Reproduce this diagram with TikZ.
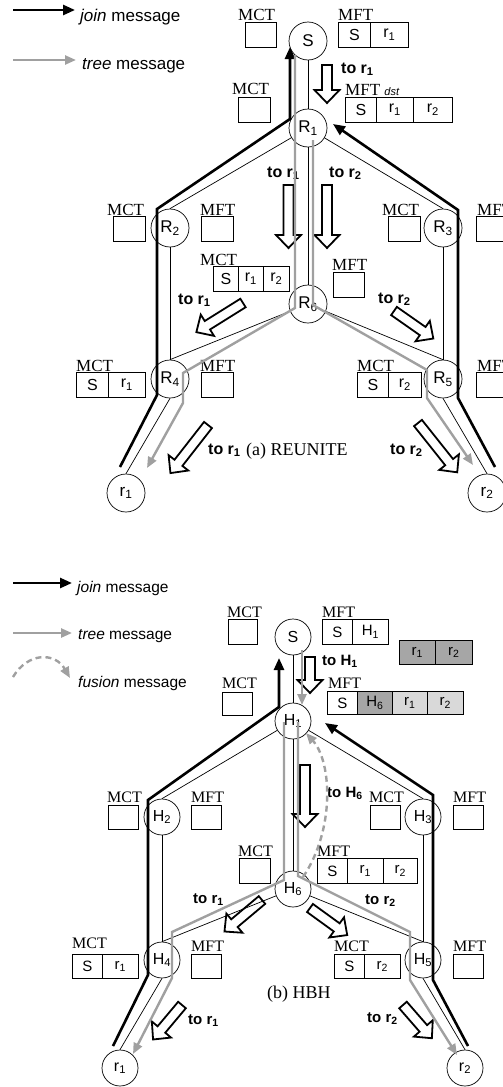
\documentclass[tikz,border=0pt]{standalone}
\usepackage{fontspec}
\setmainfont{Liberation Serif}
\setsansfont{Liberation Sans}
\usetikzlibrary{arrows.meta}
\definecolor{treegray}{RGB}{160,160,160}
\definecolor{darkcell}{RGB}{166,166,166}
\definecolor{lightcell}{RGB}{217,217,217}
\tikzset{
    router/.style = {
        circle,
        draw=black,
        line width=0.7pt,
        minimum size=38pt,
        inner sep=0pt,
        font=\sffamily\fontsize{17}{17}\selectfont
    },
    small_router/.style = {
        router,
        minimum size=36pt,
        font=\sffamily\fontsize{16}{16}\selectfont
    },
    table_cell/.style = {
        draw=black,
        line width=0.7pt,
        minimum height=25pt,
        inner sep=0pt,
        anchor=north west,
        font=\sffamily\fontsize{16}{16}\selectfont
    },
    small_cell/.style = {
        table_cell,
        minimum height=24pt,
        font=\sffamily\fontsize{15}{15}\selectfont
    },
    table_name/.style = {
        anchor=base west,
        inner sep=0pt,
        font=\fontsize{17}{17}\selectfont
    },
    small_name/.style = {
        table_name,
        font=\fontsize{16}{16}\selectfont
    },
    msg_label/.style = {
        anchor=base west,
        inner sep=0pt,
        font=\sffamily\bfseries\fontsize{16}{16}\selectfont
    },
    small_label/.style = {
        msg_label,
        font=\sffamily\bfseries\fontsize{15}{15}\selectfont
    },
    legend_text/.style = {
        anchor=base west,
        inner sep=0pt,
        font=\sffamily\fontsize{17}{17}\selectfont
    },
    link_line/.style = {
        draw=black,
        line width=0.7pt
    },
    join_line/.style = {
        draw=black,
        line width=2.6pt,
        -{Triangle[length=12pt,width=10pt]}
    },
    tree_line/.style = {
        draw=treegray,
        line width=2.4pt,
        -{Triangle[length=11pt,width=9pt]}
    },
    fusion_line/.style = {
        draw=treegray,
        line width=2.4pt,
        dash pattern=on 6pt off 4pt,
        -{Triangle[length=11pt,width=9pt]}
    },
    hop_arrow/.pic = {
        \path[draw=black, line width=1.8pt, fill=white, line join=miter]
            (0,-5) -- (#1-13,-5) -- (#1-13,-12.5) -- (#1,0) -- (#1-13,12.5) -- (#1-13,5) -- (0,5) -- cycle;
    },
}

\begin{document}
\begin{tikzpicture}[x=1pt, y=-1pt]
    \useasboundingbox (0,0) rectangle (503,1087);

    % ---------------- (a) REUNITE ----------------
    % legend
    \coordinate (leg_join_a0) at (13,10);
    \coordinate (leg_join_a1) at (75,10);
    \coordinate (leg_tree_a0) at (13,60);
    \coordinate (leg_tree_a1) at (76,60);
    \path[join_line] (leg_join_a0) -- (leg_join_a1);
    \path[tree_line] (leg_tree_a0) -- (leg_tree_a1);
    \node[legend_text] (leg_join_a_txt) at (80,21) {\textit{join} message};
    \node[legend_text] (leg_tree_a_txt) at (82,69) {\textit{tree} message};

    % tables
    \node[table_name] (mct_src_a_name) at (238,20) {MCT};
    \node[table_cell, minimum width=31pt] (mct_src_a) at (245,22) {};
    \node[table_name] (mft_src_a_name) at (338,20) {MFT};
    \node[table_cell, minimum width=32pt] (mft_src_a1) at (338,22) {S};
    \node[table_cell, minimum width=38pt] (mft_src_a2) at (370,22) {r\textsubscript{1}};

    \node[table_name] (mct_R1_name) at (232,94) {MCT};
    \node[table_cell, minimum width=32pt] (mct_R1) at (238,97) {};
    \node[table_name] (mft_R1_name) at (345,95) {MFT \textsf{\itshape\fontsize{11}{11}\selectfont dst}};
    \node[table_cell, minimum width=31pt] (mft_R1a) at (345,97) {S};
    \node[table_cell, minimum width=37pt] (mft_R1b) at (376,97) {r\textsubscript{1}};
    \node[table_cell, minimum width=39pt] (mft_R1c) at (413,97) {r\textsubscript{2}};

    \node[table_name] (mct_R2_name) at (107,215) {MCT};
    \node[table_cell, minimum width=32pt] (mct_R2) at (113,216) {};
    \node[table_name] (mft_R2_name) at (200,215) {MFT};
    \node[table_cell, minimum width=32pt] (mft_R2) at (201,216) {};

    \node[table_name] (mct_R3_name) at (382,215) {MCT};
    \node[table_cell, minimum width=32pt] (mct_R3) at (388,216) {};
    \node[table_name] (mft_R3_name) at (477,215) {MFT};
    \node[table_cell, minimum width=32pt] (mft_R3) at (476,216) {};

    \node[table_name] (mct_R6_name) at (200,265) {MCT};
    \node[table_cell, minimum width=25pt] (mct_R6a) at (213,266) {S};
    \node[table_cell, minimum width=25pt] (mct_R6b) at (238,266) {r\textsubscript{1}};
    \node[table_cell, minimum width=26pt] (mct_R6c) at (263,266) {r\textsubscript{2}};
    \node[table_name] (mft_R6_name) at (332,270) {MFT};
    \node[table_cell, minimum width=31pt] (mft_R6) at (333,272) {};

    \node[table_name] (mct_R4_name) at (76,371) {MCT};
    \node[table_cell, minimum width=32pt] (mct_R4a) at (76,372) {S};
    \node[table_cell, minimum width=37pt] (mct_R4b) at (108,372) {r\textsubscript{1}};
    \node[table_name] (mft_R4_name) at (200,371) {MFT};
    \node[table_cell, minimum width=32pt] (mft_R4) at (201,372) {};

    \node[table_name] (mct_R5_name) at (357,371) {MCT};
    \node[table_cell, minimum width=31pt] (mct_R5a) at (357,372) {S};
    \node[table_cell, minimum width=33pt] (mct_R5b) at (388,372) {r\textsubscript{2}};
    \node[table_name] (mft_R5_name) at (477,371) {MFT};
    \node[table_cell, minimum width=32pt] (mft_R5) at (476,372) {};

    % hop arrows
    \pic[rotate=-90] at (327,65) {hop_arrow=38};
    \pic[rotate=-90] at (288.5,185) {hop_arrow=63};
    \pic[rotate=-90] at (327,185) {hop_arrow=63};
    \pic[rotate=-148] at (243,303) {hop_arrow=55};
    \pic[rotate=-35] at (394,311) {hop_arrow=48};
    \pic[rotate=-128] at (208,425) {hop_arrow=61};
    \pic[rotate=-51.5] at (418,423) {hop_arrow=63};
    \node[msg_label] (to_R1_a) at (341,73) {to r\textsubscript{1}};
    \node[msg_label] (to_R6_a1) at (267,177) {to r\textsubscript{1}};
    \node[msg_label] (to_R6_a2) at (329,177) {to r\textsubscript{2}};
    \node[msg_label] (to_R4_a) at (178,304) {to r\textsubscript{1}};
    \node[msg_label] (to_R5_a) at (378,303) {to r\textsubscript{2}};
    \node[msg_label] (to_rcv1_a) at (208,454) {to r\textsubscript{1}};
    \node[msg_label] (to_rcv2_a) at (390,454) {to r\textsubscript{2}};
    \node[table_name, font=\fontsize{18}{18}\selectfont] (title_a) at (246,455) {(a) REUNITE};

    % routers
    \node[router] (src_a) at (308,41) {S};
    \node[router] (R1) at (308,128) {R\textsubscript{1}};
    \node[router] (R2) at (170,228) {R\textsubscript{2}};
    \node[router] (R3) at (443,228) {R\textsubscript{3}};
    \node[router] (R6) at (308,304) {R\textsubscript{6}};
    \node[router] (R4) at (170,379) {R\textsubscript{4}};
    \node[router] (R5) at (443,379) {R\textsubscript{5}};
    \node[router] (rcv1_a) at (126,493) {r\textsubscript{1}};
    \node[router] (rcv2_a) at (487,493) {r\textsubscript{2}};

    % links
    \path[link_line] (src_a) -- (R1);
    \path[link_line] (R1) -- (R2.north);
    \path[link_line] (R1) -- (R3.north);
    \path[link_line] (R1) -- (R6);
    \path[link_line] (R2) -- (R4);
    \path[link_line] (R3) -- (R5);
    \path[link_line] (R6) -- (R4.north);
    \path[link_line] (R6) -- (R5.north);
    \path[link_line] (R4.south) -- (rcv1_a.north);
    \path[link_line] (R5.south) -- (rcv2_a.north);

    % join messages
    \coordinate (join_a_l0) at (120,467);
    \coordinate (join_a_l1) at (157,395);
    \coordinate (join_a_l2) at (157,209);
    \coordinate (join_a_l3) at (290,119);
    \coordinate (join_a_l4) at (290,47);
    \coordinate (join_a_r0) at (495,467);
    \coordinate (join_a_r1) at (458,398);
    \coordinate (join_a_r2) at (458,210);
    \coordinate (join_a_r3) at (333,124);
    \path[join_line] (join_a_l0) -- (join_a_l1) -- (join_a_l2) -- (join_a_l3) -- (join_a_l4);
    \path[join_line] (join_a_r0) -- (join_a_r1) -- (join_a_r2) -- (join_a_r3);

    % tree messages
    \coordinate (tree_a_l0) at (295,55);
    \coordinate (tree_a_l1) at (295,308);
    \coordinate (tree_a_l2) at (183,373);
    \coordinate (tree_a_l3) at (183,403);
    \coordinate (tree_a_l4) at (147,468);
    \coordinate (tree_a_r0) at (313,140);
    \coordinate (tree_a_r1) at (313,305);
    \coordinate (tree_a_r2) at (427,370);
    \coordinate (tree_a_r3) at (427,398);
    \coordinate (tree_a_r4) at (473,465);
    \path[tree_line] (tree_a_l0) -- (tree_a_l1) -- (tree_a_l2) -- (tree_a_l3) -- (tree_a_l4);
    \path[tree_line] (tree_a_r0) -- (tree_a_r1) -- (tree_a_r2) -- (tree_a_r3) -- (tree_a_r4);

    % ---------------- (b) HBH ----------------
    % legend
    \coordinate (leg_join_b0) at (13,583);
    \coordinate (leg_join_b1) at (72,583);
    \coordinate (leg_tree_b0) at (13,633);
    \coordinate (leg_tree_b1) at (72,633);
    \coordinate (leg_fusion_b0) at (13,677);
    \coordinate (leg_fusion_b1) at (70,678);
    \path[join_line] (leg_join_b0) -- (leg_join_b1);
    \path[tree_line] (leg_tree_b0) -- (leg_tree_b1);
    \path[fusion_line] (leg_fusion_b0) .. controls (28,652) and (55,652) .. (leg_fusion_b1);
    \node[legend_text, font=\sffamily\fontsize{15.5}{15.5}\selectfont] (leg_join_b_txt) at (77,592) {\textit{join} message};
    \node[legend_text, font=\sffamily\fontsize{15.5}{15.5}\selectfont] (leg_tree_b_txt) at (78,639) {\textit{tree} message};
    \node[legend_text, font=\sffamily\fontsize{15.5}{15.5}\selectfont] (leg_fusion_b_txt) at (78,687) {\textit{fusion} message};

    % tables
    \node[small_name] (mct_src_b_name) at (227,617) {MCT};
    \node[small_cell, minimum width=29pt, minimum height=25pt] (mct_src_b) at (228,619) {};
    \node[small_name] (mft_src_b_name) at (322,617) {MFT};
    \node[small_cell, minimum width=30pt, minimum height=25pt] (mft_src_b1) at (322,619) {S};
    \node[small_cell, minimum width=36pt, minimum height=25pt] (mft_src_b2) at (352,619) {H\textsubscript{1}};
    \node[small_cell, minimum width=36pt, fill=darkcell] (fus_b1) at (399,640) {r\textsubscript{1}};
    \node[small_cell, minimum width=37pt, fill=darkcell] (fus_b2) at (435,640) {r\textsubscript{2}};

    \node[small_name] (mct_H1_name) at (222,688) {MCT};
    \node[small_cell, minimum width=30pt, minimum height=23pt] (mct_H1) at (222,692) {};
    \node[small_name] (mft_H1_name) at (328,688) {MFT};
    \node[small_cell, minimum width=30pt, minimum height=23pt] (mft_H1a) at (327,691) {S};
    \node[small_cell, minimum width=35pt, minimum height=23pt, fill=darkcell] (mft_H1b) at (357,691) {H\textsubscript{6}};
    \node[small_cell, minimum width=35pt, minimum height=23pt, fill=lightcell] (mft_H1c) at (392,691) {r\textsubscript{1}};
    \node[small_cell, minimum width=36pt, minimum height=23pt, fill=lightcell] (mft_H1d) at (427,691) {r\textsubscript{2}};

    \node[small_name] (mct_H2_name) at (107,802) {MCT};
    \node[small_cell, minimum width=30pt] (mct_H2) at (108,805) {};
    \node[small_name] (mft_H2_name) at (191,802) {MFT};
    \node[small_cell, minimum width=30pt] (mft_H2) at (191,805) {};

    \node[small_name] (mct_H3_name) at (369,802) {MCT};
    \node[small_cell, minimum width=30pt] (mct_H3) at (370,805) {};
    \node[small_name] (mft_H3_name) at (453,802) {MFT};
    \node[small_cell, minimum width=30pt] (mft_H3) at (453,805) {};

    \node[small_name] (mct_H6_name) at (238,856) {MCT};
    \node[small_cell, minimum width=31pt, minimum height=25pt] (mct_H6) at (239,858) {};
    \node[small_name] (mft_H6_name) at (317,856) {MFT};
    \node[small_cell, minimum width=30pt, minimum height=25pt] (mft_H6a) at (317,858) {S};
    \node[small_cell, minimum width=36pt, minimum height=25pt] (mft_H6b) at (347,858) {r\textsubscript{1}};
    \node[small_cell, minimum width=34pt, minimum height=25pt] (mft_H6c) at (383,858) {r\textsubscript{2}};

    \node[small_name] (mct_H4_name) at (72,948) {MCT};
    \node[small_cell, minimum width=30pt] (mct_H4a) at (72,954) {S};
    \node[small_cell, minimum width=36pt] (mct_H4b) at (102,954) {r\textsubscript{1}};
    \node[small_name] (mft_H4_name) at (191,951) {MFT};
    \node[small_cell, minimum width=30pt] (mft_H4) at (191,954) {};

    \node[small_name] (mct_H5_name) at (334,951) {MCT};
    \node[small_cell, minimum width=30pt] (mct_H5a) at (334,954) {S};
    \node[small_cell, minimum width=36pt] (mct_H5b) at (364,954) {r\textsubscript{2}};
    \node[small_name] (mft_H5_name) at (453,951) {MFT};
    \node[small_cell, minimum width=30pt] (mft_H5) at (453,954) {};

    % hop arrows
    \pic[rotate=-90] at (310,657) {hop_arrow=36};
    \pic[rotate=-90] at (305,765) {hop_arrow=62};
    \pic[rotate=-140] at (262,900) {hop_arrow=49};
    \pic[rotate=-36] at (310,908) {hop_arrow=46};
    \pic[rotate=-130] at (182,1005) {hop_arrow=45};
    \pic[rotate=-49] at (403,1005) {hop_arrow=44};
    \node[small_label] (to_H1_b) at (322,665) {to H\textsubscript{1}};
    \node[small_label] (to_H6_b) at (327,797) {to H\textsubscript{6}};
    \node[small_label] (to_H4_b) at (193,903) {to r\textsubscript{1}};
    \node[small_label] (to_H5_b) at (365,904) {to r\textsubscript{2}};
    \node[small_label] (to_rcv1_b) at (188,1024) {to r\textsubscript{1}};
    \node[small_label] (to_rcv2_b) at (367,1022) {to r\textsubscript{2}};
    \node[table_name, font=\fontsize{18}{18}\selectfont] (title_b) at (267,998) {(b) HBH};

    % routers
    \node[small_router] (src_b) at (293,637) {S};
    \node[small_router] (H1) at (293,721) {H\textsubscript{1}};
    \node[small_router] (H2) at (162,817) {H\textsubscript{2}};
    \node[small_router] (H3) at (423,817) {H\textsubscript{3}};
    \node[small_router] (H6) at (293,889) {H\textsubscript{6}};
    \node[small_router] (H4) at (162,960) {H\textsubscript{4}};
    \node[small_router] (H5) at (423,960) {H\textsubscript{5}};
    \node[small_router] (rcv1_b) at (120,1068) {r\textsubscript{1}};
    \node[small_router] (rcv2_b) at (465,1068) {r\textsubscript{2}};

    % links
    \path[link_line] (src_b) -- (H1);
    \path[link_line] (H1) -- (H2.north);
    \path[link_line] (H1) -- (H3.north);
    \path[link_line] (H1) -- (H6);
    \path[link_line] (H2) -- (H4);
    \path[link_line] (H3) -- (H5);
    \path[link_line] (H6) -- (H4.north);
    \path[link_line] (H6) -- (H5.north);
    \path[link_line] (H4.south) -- (rcv1_b.north);
    \path[link_line] (H5.south) -- (rcv2_b.north);

    % join messages
    \coordinate (join_b_l0) at (113,1046);
    \coordinate (join_b_l1) at (148,975);
    \coordinate (join_b_l2) at (148,800);
    \coordinate (join_b_l3) at (279,707);
    \coordinate (join_b_l4) at (279,658);
    \coordinate (join_b_r0) at (468,1046);
    \coordinate (join_b_r1) at (433,980);
    \coordinate (join_b_r2) at (433,795);
    \coordinate (join_b_r3) at (325,723);
    \path[join_line] (join_b_l0) -- (join_b_l1) -- (join_b_l2) -- (join_b_l3) -- (join_b_l4);
    \path[join_line] (join_b_r0) -- (join_b_r1) -- (join_b_r2) -- (join_b_r3);

    % tree messages
    \coordinate (tree_b_s0) at (302,650);
    \coordinate (tree_b_s1) at (302,705);
    \coordinate (tree_b_l0) at (284,722);
    \coordinate (tree_b_l1) at (284,880);
    \coordinate (tree_b_l2) at (172,932);
    \coordinate (tree_b_l3) at (172,978);
    \coordinate (tree_b_l4) at (133,1054);
    \coordinate (tree_b_r0) at (298,722);
    \coordinate (tree_b_r1) at (298,876);
    \coordinate (tree_b_r2) at (410,932);
    \coordinate (tree_b_r3) at (410,980);
    \coordinate (tree_b_r4) at (457,1055);
    \path[tree_line] (tree_b_s0) -- (tree_b_s1);
    \path[tree_line] (tree_b_l0) -- (tree_b_l1) -- (tree_b_l2) -- (tree_b_l3) -- (tree_b_l4);
    \path[tree_line] (tree_b_r0) -- (tree_b_r1) -- (tree_b_r2) -- (tree_b_r3) -- (tree_b_r4);

    % fusion message
    \coordinate (fusion_b0) at (303,877);
    \coordinate (fusion_b1) at (306,733);
    \path[fusion_line] (fusion_b0) .. controls (335,830) and (332,762) .. (fusion_b1);
\end{tikzpicture}
\end{document}
